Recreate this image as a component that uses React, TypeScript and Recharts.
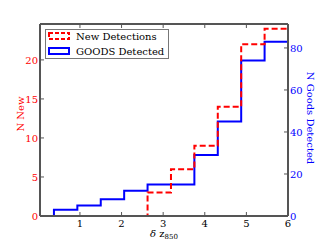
import React from 'react';
import { ComposedChart, Line, XAxis, YAxis, Legend } from 'recharts';

const binEdges = [0.375, 0.9375, 1.5, 2.0625, 2.625, 3.1875, 3.75, 4.3125, 4.875, 5.4375, 6.0];
const newDetections = [0, 0, 0, 0, 3, 6, 9, 14, 22, 24];
const goodsDetected = [3, 5, 8, 12, 15, 15, 29, 45, 74, 83];
const xTicks = [1, 2, 3, 4, 5, 6];
const leftTicks = [0, 5, 10, 15, 20];
const rightTicks = [0, 20, 40, 60, 80];

const RED = '#ff0000';
const BLUE = '#0000ff';
const AXIS = '#555555';
const FONT = '"DejaVu Serif", serif';

const data: { x: number; red: number; blue: number }[] = [];
data.push({ x: binEdges[0], red: 0, blue: 0 });
for (let i = 0; i < newDetections.length; i++) {
  data.push({ x: binEdges[i], red: newDetections[i], blue: goodsDetected[i] });
}
const last = newDetections.length - 1;
data.push({ x: binEdges[last + 1], red: newDetections[last], blue: goodsDetected[last] });
data.push({ x: binEdges[last + 1], red: 0, blue: 0 });

const BottomTick = (p: any) => (
  <g>
    <line x1={p.x} x2={p.x} y1={p.y} y2={p.y - 4} stroke={AXIS} strokeWidth={1} />
    <text x={p.x} y={p.y + 11} textAnchor="middle" fontSize={10} fontFamily={FONT} fill="#000">
      {p.payload.value}
    </text>
  </g>
);
const TopTick = (p: any) => (
  <g>
    <line x1={p.x} x2={p.x} y1={p.y} y2={p.y + 4} stroke={AXIS} strokeWidth={1} />
  </g>
);
const LeftTick = (p: any) => (
  <g>
    <line x1={p.x} x2={p.x + 4} y1={p.y} y2={p.y} stroke={AXIS} strokeWidth={1} />
    <text x={p.x - 2} y={p.y} dy="0.36em" textAnchor="end" fontSize={10} fontFamily={FONT} fill={RED}>
      {p.payload.value}
    </text>
  </g>
);
const RightTick = (p: any) => (
  <g>
    <line x1={p.x} x2={p.x - 4} y1={p.y} y2={p.y} stroke={AXIS} strokeWidth={1} />
    <text x={p.x + 2} y={p.y} dy="0.36em" textAnchor="start" fontSize={10} fontFamily={FONT} fill={BLUE}>
      {p.payload.value}
    </text>
  </g>
);

const LegendBox = () => (
  <div
    style={{
      border: '1px solid #777',
      background: '#fff',
      width: 122,
      height: 28,
      fontFamily: FONT,
      fontSize: 10,
      lineHeight: '15px',
      boxSizing: 'content-box',
    }}
  >
    {[
      { label: 'New Detections', color: RED, dash: '4 2' },
      { label: 'GOODS Detected', color: BLUE, dash: undefined },
    ].map((e, i) => (
      <div key={i} style={{ display: 'flex', alignItems: 'center', height: 15, marginTop: i === 0 ? -1 : 0 }}>
        <svg width={30} height={15} style={{ display: 'block' }}>
          <rect x={3} y={4} width={20} height={6} fill="none" stroke={e.color} strokeWidth={2} strokeDasharray={e.dash} />
        </svg>
        <span style={{ color: '#000', whiteSpace: 'nowrap' }}>{e.label}</span>
      </div>
    ))}
  </div>
);

export default function App() {
  return (
    <div style={{ position: 'fixed', left: 0, top: 0, width: 320, height: 240, background: '#fff' }}>
      <ComposedChart width={320} height={240} data={data} margin={{ top: 0, right: 0, bottom: 0, left: 0 }}>
        <XAxis
          xAxisId="bottom"
          dataKey="x"
          type="number"
          domain={[0.04, 6]}
          allowDataOverflow
          ticks={xTicks}
          height={24}
          tickSize={0}
          tickMargin={0}
          tickLine={false}
          tick={<BottomTick />}
          axisLine={{ stroke: AXIS, strokeWidth: 2 }}
          label={(props: any) => {
            const vb = props.viewBox;
            const cx = vb.x + vb.width / 2;
            return (
              <text x={cx} y={vb.y + 21} textAnchor="middle" fontFamily={FONT} fontSize={10} fill="#000">
                <tspan fontStyle="italic">δ</tspan>
                <tspan> z</tspan>
                <tspan fontSize={7} dy={2}>850</tspan>
              </text>
            );
          }}
        />
        <XAxis
          xAxisId="top"
          orientation="top"
          dataKey="x"
          type="number"
          domain={[0.04, 6]}
          allowDataOverflow
          ticks={[1, 2, 3, 4, 5]}
          height={24}
          tickSize={0}
          tickMargin={0}
          tickLine={false}
          tick={<TopTick />}
          axisLine={{ stroke: AXIS, strokeWidth: 2 }}
        />
        <YAxis
          yAxisId="left"
          domain={[0, 24.6]}
          allowDataOverflow
          ticks={leftTicks}
          width={40}
          tickSize={0}
          tickMargin={0}
          tickLine={false}
          tick={<LeftTick />}
          axisLine={{ stroke: AXIS, strokeWidth: 2 }}
          label={(props: any) => {
            const vb = props.viewBox;
            const cx = vb.x + 20.5;
            const cy = vb.y + vb.height / 2 - 6;
            return (
              <text x={cx} y={cy} transform={`rotate(-90 ${cx} ${cy})`} textAnchor="middle" dy="0.36em" fontFamily={FONT} fontSize={10} fill={RED}>
                N New
              </text>
            );
          }}
        />
        <YAxis
          yAxisId="right"
          orientation="right"
          domain={[0, 91.4]}
          allowDataOverflow
          ticks={rightTicks}
          width={32}
          tickSize={0}
          tickMargin={0}
          tickLine={false}
          tick={<RightTick />}
          axisLine={{ stroke: AXIS, strokeWidth: 2 }}
          label={(props: any) => {
            const vb = props.viewBox;
            const cx = vb.x + 23;
            const cy = vb.y + vb.height / 2 - 2;
            return (
              <text x={cx} y={cy} transform={`rotate(90 ${cx} ${cy})`} textAnchor="middle" dy="0.36em" fontFamily={FONT} fontSize={10} fill={BLUE}>
                N Goods Detected
              </text>
            );
          }}
        />
        <Legend
          layout="horizontal"
          verticalAlign="middle"
          align="center"
          wrapperStyle={{ top: 29, left: 45, width: 'auto' }}
          content={() => <LegendBox />}
        />
        <Line
          xAxisId="bottom"
          yAxisId="right"
          dataKey="blue"
          type="stepAfter"
          stroke={BLUE}
          strokeWidth={2}
          dot={false}
          activeDot={false}
          isAnimationActive={false}
        />
        <Line
          xAxisId="bottom"
          yAxisId="left"
          dataKey="red"
          type="stepAfter"
          stroke={RED}
          strokeWidth={2}
          strokeDasharray="6 3"
          dot={false}
          activeDot={false}
          isAnimationActive={false}
        />
      </ComposedChart>
    </div>
  );
}
